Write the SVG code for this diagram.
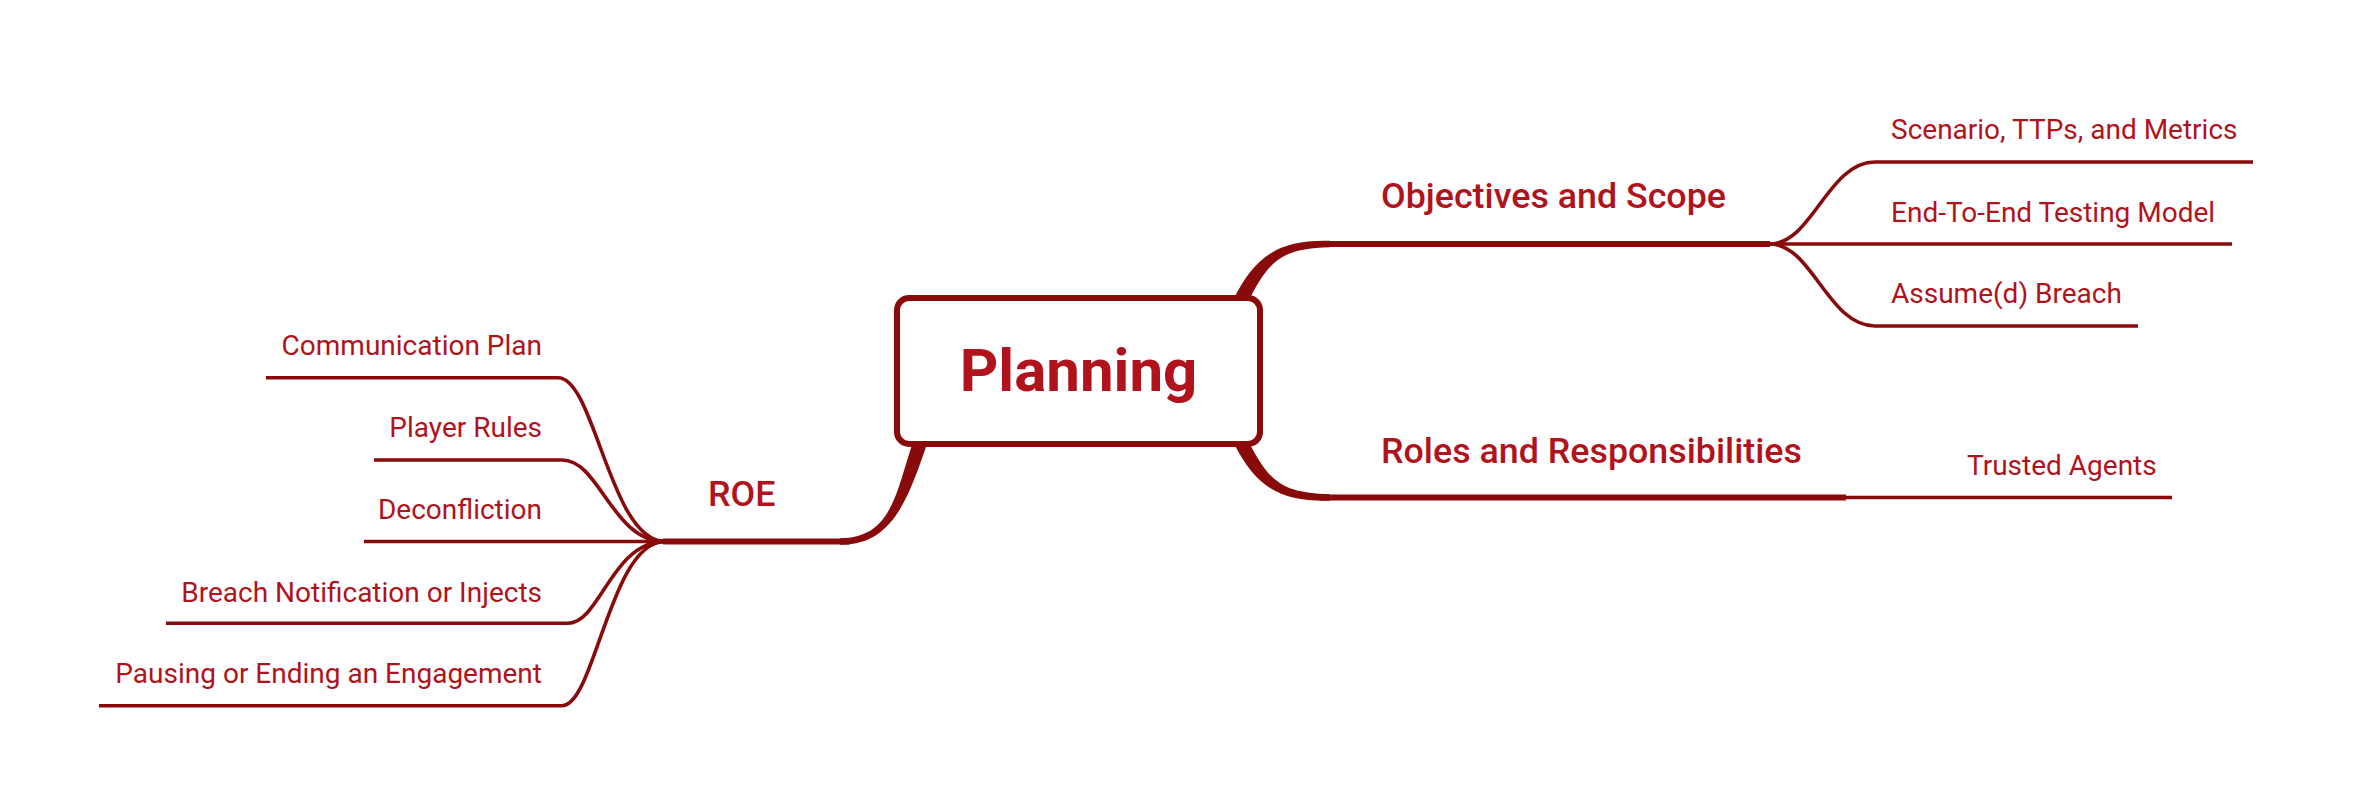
<svg xmlns="http://www.w3.org/2000/svg" width="2354" height="808" viewBox="0 0 2354 808">
<style>
.t{font-family:Roboto,"Liberation Sans",sans-serif;fill:#B0131B}
.c{font-size:28px;font-weight:400}
.m{font-size:35.8px;font-weight:500}
.ln{fill:none;stroke:#880A0A;stroke-linecap:butt}
.thin{stroke-width:3.6}
.thick{stroke-width:6}
.tap{fill:#880A0A;stroke:none}
</style>
<rect width="2354" height="808" fill="#FFFFFF"/>
<g id="connectors">
  <path class="tap" d="M1233.7 298.9 C1255.7 254.9 1280 239.5 1330 240.8 L1330 247.2 C1280 248.5 1268.3 261.1 1246.3 305.1 Z"/>
  <path class="ln thick" d="M1320 244 L1770 244"/>
  <path class="ln thin" d="M1770 244 C1812 244 1828 162 1875 162 L2253 162"/>
  <path class="ln thin" d="M1770 244 L2232 244"/>
  <path class="ln thin" d="M1770 244 C1812 244 1828 326 1875 326 L2138 326"/>
  <path class="tap" d="M1246.3 436.9 C1268.3 480.9 1280 493 1330 494.3 L1330 500.7 C1280 502 1255.7 487.1 1233.7 443.1 Z"/>
  <path class="ln thick" d="M1320 497.5 L1846 497.5"/>
  <path class="ln thin" d="M1846 497.5 L2172 497.5"/>
  <path class="tap" d="M927.5 442.6 C908.5 497.6 893 545.5 840 544.7 L840 538.3 C893 537.5 895.5 492.4 914.5 437.4 Z"/>
  <path class="ln thick" d="M850 541.5 L663 541.5"/>
  <path class="ln thin" d="M665 541.5 C610 541.5 595 377.7 558 377.7 L266 377.7"/>
  <path class="ln thin" d="M665 541.5 C612 541.5 600 460 562 460 L374 460"/>
  <path class="ln thin" d="M665 541.5 L364 541.5"/>
  <path class="ln thin" d="M665 541.5 C612 541.5 600 623.3 568 623.3 L166 623.3"/>
  <path class="ln thin" d="M665 541.5 C610 541.5 595 705.7 562 705.7 L99 705.7"/>
</g>
<g id="planning">
  <rect x="897" y="298" width="363" height="146" rx="12" ry="12" fill="#FFFFFF" stroke="#880A0A" stroke-width="6"/>
  <text class="t" x="1078.5" y="391" font-size="60" font-weight="700" text-anchor="middle">Planning</text>
</g>
<g id="objectives">
  <text class="t m" x="1381" y="208">Objectives and Scope</text>
</g>
<g id="scenario"><text class="t c" x="1891" y="139">Scenario, TTPs, and Metrics</text></g>
<g id="e2e"><text class="t c" x="1891" y="221.7">End-To-End Testing Model</text></g>
<g id="assumed"><text class="t c" x="1891" y="303.3">Assume(d) Breach</text></g>
<g id="roles">
  <text class="t m" x="1381" y="462.7">Roles and Responsibilities</text>
</g>
<g id="trusted"><text class="t c" x="1967" y="475">Trusted Agents</text></g>
<g id="roe">
  <text class="t m" x="708" y="506">ROE</text>
</g>
<g id="comm"><text class="t c" x="542" y="355" text-anchor="end">Communication Plan</text></g>
<g id="player"><text class="t c" x="542" y="437.3" text-anchor="end">Player Rules</text></g>
<g id="decon"><text class="t c" x="542" y="519.3" text-anchor="end">Deconfliction</text></g>
<g id="breach"><text class="t c" x="542" y="601.7" text-anchor="end">Breach Notification or Injects</text></g>
<g id="pausing"><text class="t c" x="542" y="683.3" text-anchor="end">Pausing or Ending an Engagement</text></g>
</svg>
